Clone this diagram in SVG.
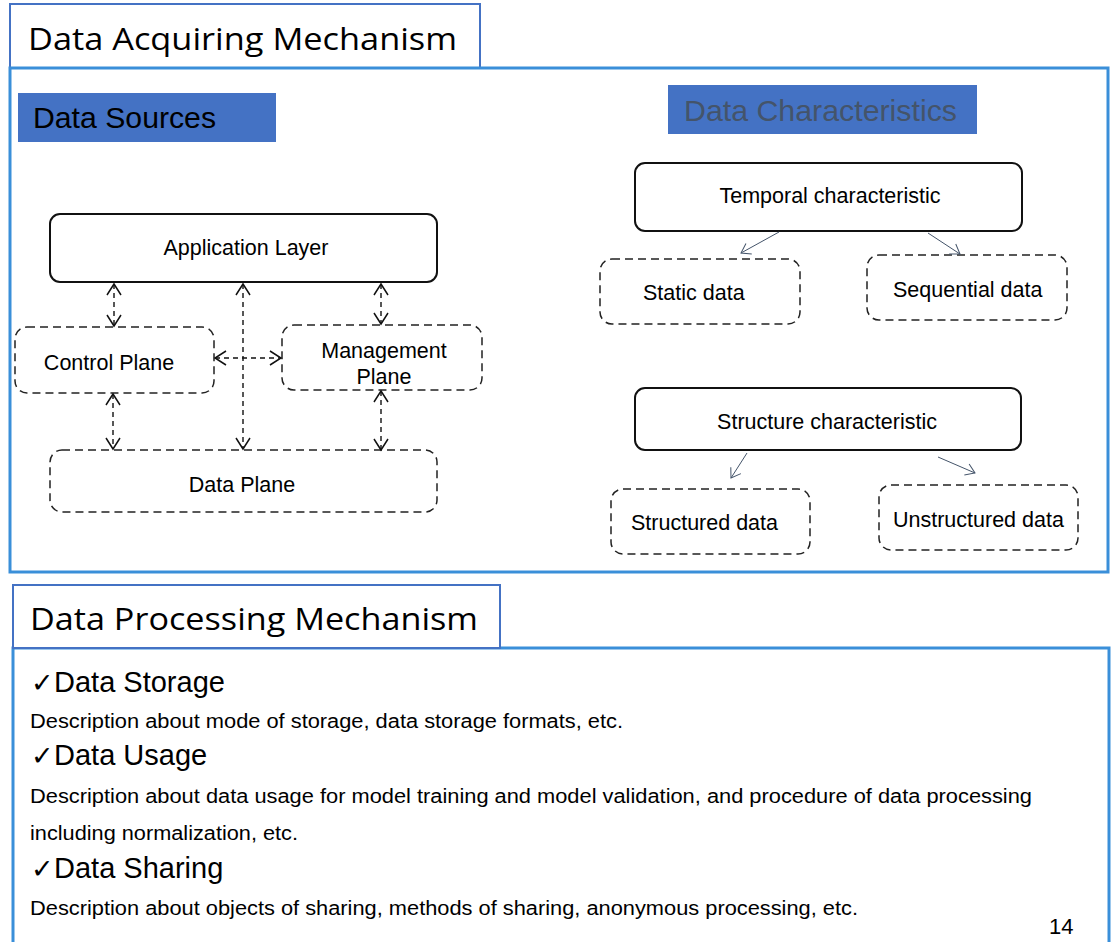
<svg xmlns="http://www.w3.org/2000/svg" width="1111" height="942" viewBox="0 0 1111 942">
  <style>
    .title { font-family: "Open Sans", "Noto Sans", sans-serif; font-size: 31px; fill: #000; }
    .head { font-family: "Liberation Sans", Arial, sans-serif; font-size: 29px; }
    .lbl { font-family: "Liberation Sans", Arial, sans-serif; font-size: 21.5px; fill: #000; }
    .item { font-family: "Liberation Sans", Arial, sans-serif; font-size: 29px; fill: #000; }
    .tick { font-family: "DejaVu Sans", sans-serif; font-size: 27px; }
    .desc { font-family: "Liberation Sans", Arial, sans-serif; font-size: 19.5px; fill: #000; }
    .tab { fill: #fff; stroke: #4472c4; stroke-width: 2; }
    .frame { fill: none; stroke: #3a8fd9; stroke-width: 3; }
    .solid { fill: #fff; stroke: #111; stroke-width: 2; }
    .dashed { fill: #fff; stroke: #222; stroke-width: 1.5; stroke-dasharray: 8 5; }
    .link { fill: none; stroke: #111; stroke-width: 1.4; stroke-dasharray: 5 4; }
    .thin { fill: none; stroke: #44546a; stroke-width: 1; }
  </style>
  <defs>
    <marker id="vee" markerUnits="userSpaceOnUse" markerWidth="14" markerHeight="18" refX="12" refY="8" orient="auto-start-reverse">
      <path d="M1,1 L12,8 L1,15" fill="none" stroke="#111" stroke-width="1.5" stroke-dasharray="none"/>
    </marker>
    <marker id="thinHead" markerUnits="userSpaceOnUse" markerWidth="12" markerHeight="14" refX="10" refY="7" orient="auto">
      <path d="M1,1 L10,7 L1,13" fill="none" stroke="#44546a" stroke-width="1"/>
    </marker>
  </defs>

  <rect width="1111" height="942" fill="#fff"/>

  <!-- upper section: acquiring -->
  <g id="acquiring-tab">
    <rect class="tab" x="10" y="4" width="470" height="64"/>
    <text class="title" x="28" y="50" textLength="429" lengthAdjust="spacingAndGlyphs">Data Acquiring Mechanism</text>
  </g>
  <rect id="acquiring-frame" class="frame" x="10" y="68" width="1098" height="504"/>

  <g id="data-sources-heading">
    <rect x="18" y="93" width="258" height="49" fill="#4472c4"/>
    <text class="head" x="33" y="128" fill="#000" textLength="183" lengthAdjust="spacingAndGlyphs">Data Sources</text>
  </g>
  <g id="data-characteristics-heading">
    <rect x="668" y="85" width="309" height="49" fill="#4472c4"/>
    <text class="head" x="684" y="121" fill="#44546a" style="font-size:30px" textLength="273" lengthAdjust="spacingAndGlyphs">Data Characteristics</text>
  </g>

  <!-- data source planes -->
  <g id="application-layer">
    <rect class="solid" x="50" y="214" width="387" height="68" rx="10"/>
    <text class="lbl" x="246" y="255" text-anchor="middle">Application Layer</text>
  </g>
  <g id="control-plane">
    <rect class="dashed" x="15" y="327" width="199" height="66" rx="12"/>
    <text class="lbl" x="109" y="370" text-anchor="middle">Control Plane</text>
  </g>
  <g id="management-plane">
    <rect class="dashed" x="282" y="325" width="200" height="65" rx="12"/>
    <text class="lbl" x="384" y="358" text-anchor="middle">Management</text>
    <text class="lbl" x="384" y="384" text-anchor="middle">Plane</text>
  </g>
  <g id="data-plane">
    <rect class="dashed" x="50" y="450" width="387" height="62" rx="12"/>
    <text class="lbl" x="242" y="492" text-anchor="middle">Data Plane</text>
  </g>

  <!-- characteristic nodes -->
  <g id="temporal">
    <rect class="solid" x="635" y="163" width="387" height="68" rx="10"/>
    <text class="lbl" x="830" y="203" text-anchor="middle">Temporal characteristic</text>
  </g>
  <g id="static-data">
    <rect class="dashed" x="600" y="259" width="200" height="65" rx="12"/>
    <text class="lbl" x="643" y="300">Static data</text>
  </g>
  <g id="sequential-data">
    <rect class="dashed" x="867" y="255" width="200" height="65" rx="12"/>
    <text class="lbl" x="893" y="297">Sequential data</text>
  </g>
  <g id="structure">
    <rect class="solid" x="635" y="388" width="386" height="62" rx="10"/>
    <text class="lbl" x="827" y="429" text-anchor="middle">Structure characteristic</text>
  </g>
  <g id="structured-data">
    <rect class="dashed" x="611" y="489" width="199" height="65" rx="12"/>
    <text class="lbl" x="631" y="530">Structured data</text>
  </g>
  <g id="unstructured-data">
    <rect class="dashed" x="879" y="485" width="199" height="65" rx="12"/>
    <text class="lbl" x="893" y="527">Unstructured data</text>
  </g>

  <!-- connectors -->
  <g id="connectors">
    <line class="link" x1="114" y1="284" x2="114" y2="326" marker-start="url(#vee)" marker-end="url(#vee)"/>
    <line class="link" x1="243" y1="284" x2="243" y2="449" marker-start="url(#vee)" marker-end="url(#vee)"/>
    <line class="link" x1="381" y1="284" x2="381" y2="324" marker-start="url(#vee)" marker-end="url(#vee)"/>
    <line class="link" x1="113" y1="394" x2="113" y2="449" marker-start="url(#vee)" marker-end="url(#vee)"/>
    <line class="link" x1="381" y1="391" x2="381" y2="450" marker-start="url(#vee)" marker-end="url(#vee)"/>
    <line class="link" x1="215" y1="358" x2="281" y2="358" marker-start="url(#vee)" marker-end="url(#vee)"/>

    <line class="thin" x1="779" y1="232" x2="741" y2="253" marker-end="url(#thinHead)"/>
    <line class="thin" x1="928" y1="233" x2="960" y2="254" marker-end="url(#thinHead)"/>
    <line class="thin" x1="747" y1="453" x2="731" y2="478" marker-end="url(#thinHead)"/>
    <line class="thin" x1="938" y1="457" x2="975" y2="473" marker-end="url(#thinHead)"/>
  </g>

  <!-- lower section: processing -->
  <rect id="processing-frame" class="frame" x="13" y="648" width="1096" height="320"/>
  <g id="processing-tab">
    <rect class="tab" x="13" y="585" width="487" height="63"/>
    <text class="title" x="30" y="630" textLength="448" lengthAdjust="spacingAndGlyphs">Data Processing Mechanism</text>
  </g>

  <g id="processing-items">
    <text class="item" x="31" y="692"><tspan class="tick">✓</tspan><tspan x="54">Data Storage</tspan></text>
    <text class="desc" x="30" y="728" textLength="593" lengthAdjust="spacingAndGlyphs">Description about mode of storage, data storage formats, etc.</text>
    <text class="item" x="31" y="765"><tspan class="tick">✓</tspan><tspan x="54">Data Usage</tspan></text>
    <text class="desc" x="30" y="803" textLength="1002" lengthAdjust="spacingAndGlyphs">Description about data usage for model training and model validation, and procedure of data processing</text>
    <text class="desc" x="30" y="840" textLength="268" lengthAdjust="spacingAndGlyphs">including normalization, etc.</text>
    <text class="item" x="31" y="878"><tspan class="tick">✓</tspan><tspan x="54">Data Sharing</tspan></text>
    <text class="desc" x="30" y="915" textLength="828" lengthAdjust="spacingAndGlyphs">Description about objects of sharing, methods of sharing, anonymous processing, etc.</text>
  </g>

  <text id="page-number" class="desc" x="1049" y="934" style="font-size:22px">14</text>
</svg>
